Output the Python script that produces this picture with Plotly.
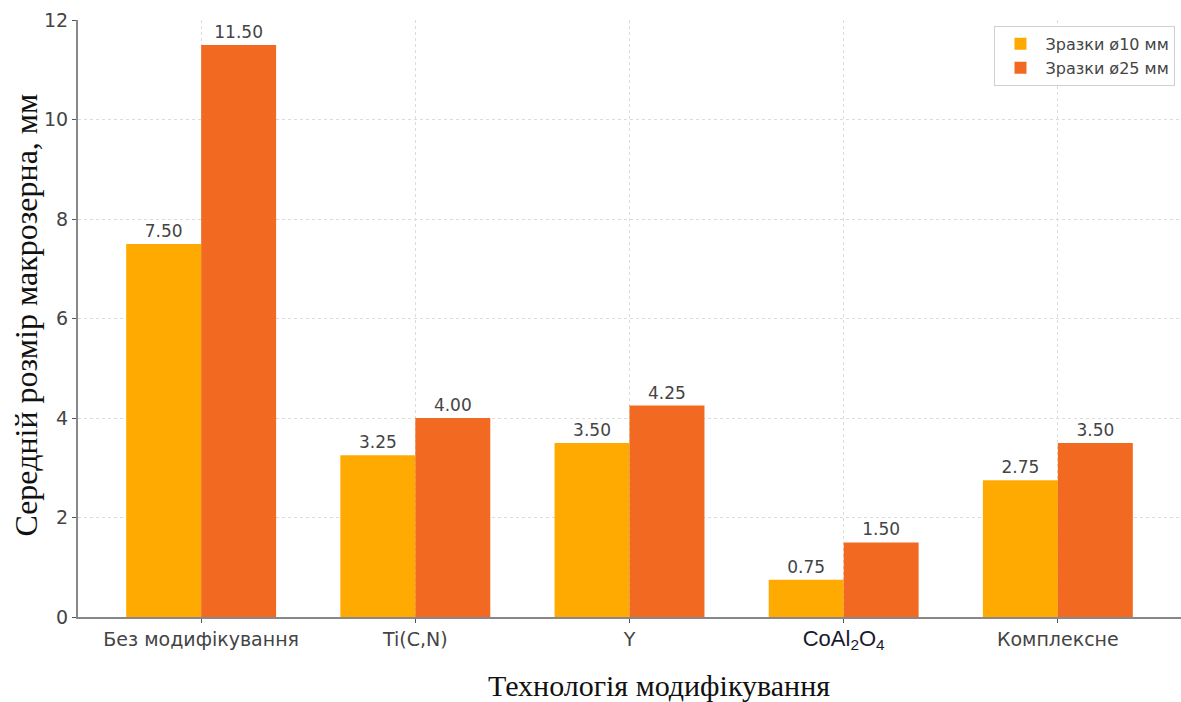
import plotly.graph_objects as go

# Categories and measured mean macro-grain size (mm)
categories = ["Без модифікування", "Ti(C,N)", "Y", "CoAl2O4", "Комплексне"]
tick_labels = [
    "Без модифікування",
    "Ti(C,N)",
    "Y",
    "<span style='font-family:Liberation Sans;font-size:22px;color:#1a1a2e'>CoAl<sub>2</sub>O<sub>4</sub></span>",
    "Комплексне",
]
size_d10 = [7.50, 3.25, 3.50, 0.75, 2.75]
size_d25 = [11.50, 4.00, 4.25, 1.50, 3.50]
series_names = ["Зразки ø10 мм", "Зразки ø25 мм"]

label_font = dict(family="DejaVu Sans", size=17, color="#444444")

fig = go.Figure()
fig.add_trace(go.Bar(
    x=categories, y=size_d10, name=series_names[0],
    marker=dict(color="#FFAA00", line=dict(width=0)),
    texttemplate="%{y:.2f}", textposition="outside", textfont=label_font,
    cliponaxis=False,
))
fig.add_trace(go.Bar(
    x=categories, y=size_d25, name=series_names[1],
    marker=dict(color="#F26A21", line=dict(width=0)),
    texttemplate="%{y:.2f}", textposition="outside", textfont=label_font,
    cliponaxis=False,
))

grid = dict(showgrid=True, gridcolor="#dcdcdc", griddash="dot", gridwidth=1)

fig.update_layout(
    width=1181, height=702,
    margin=dict(l=78, r=0, t=20, b=85),
    paper_bgcolor="white", plot_bgcolor="white",
    barmode="group", bargap=0.3, bargroupgap=0,
    font=dict(family="DejaVu Sans", size=19, color="#444444"),
    showlegend=True,
    legend=dict(
        x=0.995, y=0.99, xanchor="right", yanchor="top",
        bgcolor="white", bordercolor="#d0d0d0", borderwidth=1,
        font=dict(family="DejaVu Sans", size=16, color="#444444"),
        itemwidth=40, tracegroupgap=2,
    ),
    uniformtext=dict(mode=False),
    xaxis=dict(
        type="category",
        tickmode="array", tickvals=categories, ticktext=tick_labels,
        range=[-0.575, 4.575],
        showline=True, linecolor="#888888", linewidth=2,
        ticks="outside", ticklen=4, tickcolor="#555555",
        tickfont=dict(family="DejaVu Sans", size=19, color="#444444"),
        **grid,
    ),
    yaxis=dict(
        range=[0, 12], tickvals=[0, 2, 4, 6, 8, 10, 12],
        showline=True, linecolor="#888888", linewidth=2,
        ticks="outside", ticklen=4, tickcolor="#555555",
        tickfont=dict(family="DejaVu Sans", size=19, color="#444444"),
        zeroline=False,
        **grid,
    ),
    annotations=[
        dict(
            text="Технологія модифікування",
            x=0.527, y=-0.115, xref="paper", yref="paper",
            xanchor="center", yanchor="middle", showarrow=False,
            font=dict(family="Liberation Serif", size=30, color="#111111"),
        ),
        dict(
            text="Середній розмір макрозерна, мм",
            x=-0.048, y=0.505, xref="paper", yref="paper",
            xanchor="center", yanchor="middle", showarrow=False, textangle=-90,
            font=dict(family="Liberation Serif", size=32, color="#111111"),
        ),
    ],
)

fig.write_html("out.html")
